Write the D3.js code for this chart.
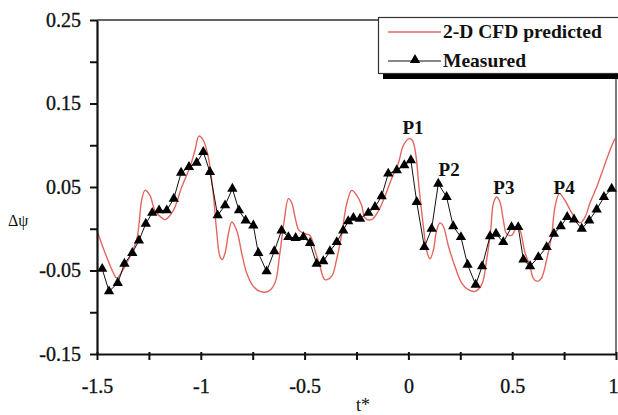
<!DOCTYPE html>
<html>
<head>
<meta charset="utf-8">
<script src="https://cdn.jsdelivr.net/npm/d3@7"></script>
<style>
  body { margin: 0; background: #fff; }
  svg { display: block; }
  .axis path, .axis line { stroke: #111; }
  .axis text { font-size: 20px; fill: #111; stroke: #111; stroke-width: 0.35px; }
</style>
</head>
<body>
<div id="chart"></div>
<script>
// 2-D CFD predicted (red curve), t* vs delta psi
const cfdT = [-1.5, -1.461, -1.421, -1.405, -1.357, -1.309, -1.285, -1.269, -1.245, -1.221,
  -1.188, -1.172, -1.132, -1.092, -1.052, -1.028, -1.009, -0.988, -0.964, -0.94,
  -0.924, -0.908, -0.897, -0.883, -0.867, -0.851, -0.827, -0.803, -0.779, -0.747,
  -0.715, -0.675, -0.643, -0.619, -0.598, -0.578, -0.562, -0.546, -0.527, -0.498,
  -0.474, -0.45, -0.426, -0.402, -0.37, -0.346, -0.321, -0.297, -0.273, -0.249,
  -0.225, -0.209, -0.177, -0.145, -0.113, -0.081, -0.049, -0.024, 0.003, 0.019,
  0.035, 0.051, 0.072, 0.088, 0.104, 0.12, 0.136, 0.152, 0.168, 0.192,
  0.224, 0.257, 0.289, 0.321, 0.353, 0.377, 0.397, 0.409, 0.425, 0.441,
  0.457, 0.473, 0.497, 0.521, 0.537, 0.561, 0.586, 0.601, 0.621, 0.641,
  0.666, 0.69, 0.706, 0.727, 0.754, 0.778, 0.802, 0.827, 0.851, 0.875,
  0.907, 0.939, 0.971, 0.995];
const cfdV = [-0.002, -0.029, -0.053, -0.059, -0.041, -0.013, 0.034, 0.046, 0.040, 0.022,
  0.013, 0.011, 0.022, 0.050, 0.074, 0.094, 0.111, 0.106, 0.086, 0.042,
  -0.002, -0.033, -0.037, -0.029, -0.006, 0.008, -0.002, -0.029, -0.053, -0.069,
  -0.075, -0.075, -0.065, -0.029, 0.010, 0.036, 0.031, 0.014, -0.002, -0.006,
  -0.008, -0.026, -0.045, -0.061, -0.057, -0.037, -0.006, 0.030, 0.046, 0.040,
  0.028, 0.013, 0.011, 0.021, 0.039, 0.060, 0.078, 0.100, 0.108, 0.106,
  0.090, 0.050, 0.003, -0.026, -0.036, -0.026, -0.002, 0.007, 0.003, -0.020,
  -0.045, -0.065, -0.073, -0.075, -0.067, -0.037, 0.000, 0.030, 0.038, 0.032,
  0.011, -0.006, -0.008, 0.001, -0.002, -0.028, -0.045, -0.059, -0.063, -0.059,
  -0.037, -0.008, 0.026, 0.042, 0.034, 0.023, 0.013, 0.007, 0.014, 0.031,
  0.050, 0.072, 0.094, 0.108];

// Measured (black triangles)
const measT = [-1.475, -1.442, -1.40, -1.368, -1.33, -1.298, -1.265, -1.234, -1.201, -1.164,
  -1.13, -1.095, -1.057, -1.02, -0.988, -0.956, -0.919, -0.883, -0.848, -0.816,
  -0.784, -0.747, -0.723, -0.683, -0.646, -0.611, -0.578, -0.543, -0.506, -0.474,
  -0.442, -0.41, -0.378, -0.345, -0.314, -0.29, -0.265, -0.233, -0.193, -0.161,
  -0.129, -0.097, -0.056, -0.02, 0.012, 0.04, 0.077, 0.112, 0.144, 0.184,
  0.216, 0.253, 0.285, 0.324, 0.355, 0.393, 0.422, 0.457, 0.497, 0.529,
  0.554, 0.586, 0.626, 0.666, 0.701, 0.734, 0.765, 0.798, 0.835, 0.871,
  0.907, 0.942, 0.979];
const measV = [-0.048, -0.075, -0.065, -0.042, -0.029, -0.014, 0.006, 0.019, 0.022, 0.022,
  0.036, 0.067, 0.074, 0.079, 0.092, 0.068, 0.016, 0.028, 0.048, 0.022,
  0.010, 0.004, -0.029, -0.051, -0.027, -0.002, -0.010, -0.011, -0.010, -0.017,
  -0.042, -0.039, -0.027, -0.016, -0.002, 0.009, 0.013, 0.012, 0.019, 0.026,
  0.039, 0.066, 0.070, 0.076, 0.082, 0.032, -0.022, 0.000, 0.054, 0.038,
  0.003, -0.010, -0.043, -0.067, -0.045, -0.009, -0.006, -0.016, 0.002, 0.002,
  -0.037, -0.045, -0.034, -0.022, -0.006, 0.003, 0.014, 0.011, 0.000, 0.010,
  0.023, 0.038, 0.048];

// ticks
const xTicks = [-1.5, -1.25, -1, -0.75, -0.5, -0.25, 0, 0.25, 0.5, 0.75, 1];
const xLabelTicks = [-1.5, -1, -0.5, 0, 0.5, 1];
const xLabelText = ['-1.5', '-1', '-0.5', '0', '0.5', '1'];
const yTicks = [-0.15, -0.1, -0.05, 0, 0.05, 0.1, 0.15, 0.2, 0.25];
const yLabelTicks = [-0.15, -0.05, 0.05, 0.15, 0.25];
const yLabelText = ['-0.15', '-0.05', '0.05', '0.15', '0.25'];

// peak annotations
const peakNames = ['P1', 'P2', 'P3', 'P4'];
const peakT = [0.022, 0.196, 0.46, 0.75];
const peakV = [0.114, 0.0626, 0.042, 0.042];

const width = 618, height = 415;
const plot = {left: 97, right: 616, top: 20, bottom: 354};
const red = '#e4675f';
const serif = '"Liberation Serif", "Times New Roman", serif';

const svg = d3.select('#chart').append('svg')
  .attr('width', width)
  .attr('height', height)
  .attr('font-family', serif);

const x = d3.scaleLinear().domain([-1.5, 1]).range([plot.left, plot.right]);
const y = d3.scaleLinear().domain([-0.15, 0.25]).range([plot.bottom, plot.top]);

const cfd = cfdT.map((t, i) => ({t: t, v: cfdV[i]}));
const meas = measT.map((t, i) => ({t: t, v: measV[i]}));

// frame (top + right)
svg.append('path')
  .attr('d', `M${plot.left},${plot.top}H${plot.right}V${plot.bottom}`)
  .attr('fill', 'none')
  .attr('stroke', '#333')
  .attr('stroke-width', 1.3);

// red CFD curve
const line = d3.line()
  .x(d => x(d.t))
  .y(d => y(d.v))
  .curve(d3.curveCatmullRom.alpha(0.5));

svg.append('path')
  .datum(cfd)
  .attr('d', line)
  .attr('fill', 'none')
  .attr('stroke', red)
  .attr('stroke-width', 1.4);

// measured line + triangles
svg.append('path')
  .datum(meas)
  .attr('d', d3.line().x(d => x(d.t)).y(d => y(d.v)))
  .attr('fill', 'none')
  .attr('stroke', '#111')
  .attr('stroke-width', 1);

const tri = d3.symbol().type(d3.symbolTriangle).size(46);

svg.append('g')
  .selectAll('path')
  .data(meas)
  .enter().append('path')
  .attr('d', tri)
  .attr('transform', d => `translate(${x(d.t)},${y(d.v)})`)
  .attr('fill', '#000');

// axes
const xAxis = d3.axisBottom(x)
  .tickValues(xTicks)
  .tickSize(6)
  .tickSizeOuter(0)
  .tickFormat(d => {
    const k = xLabelTicks.indexOf(d);
    return k >= 0 ? xLabelText[k] : '';
  });

svg.append('g')
  .attr('class', 'axis axis--x')
  .attr('transform', `translate(0, ${plot.bottom})`)
  .call(xAxis)
  .attr('font-family', serif)
  .attr('font-size', null)
  .call(g => g.select('.domain').attr('stroke-width', 2.2))
  .call(g => g.selectAll('.tick line').attr('stroke-width', 2).attr('y1', -2))
  .call(g => g.selectAll('.tick text').attr('dy', '0.71em').attr('y', 25))
  .call(g => g.selectAll('.tick text').filter(d => d === 1)
    .attr('text-anchor', 'end').attr('x', 2));

const yAxis = d3.axisLeft(y)
  .tickValues(yTicks)
  .tickSize(7)
  .tickSizeOuter(0)
  .tickPadding(9)
  .tickFormat(d => {
    const k = yLabelTicks.findIndex(v => Math.abs(v - d) < 1e-9);
    return k >= 0 ? yLabelText[k] : '';
  });

svg.append('g')
  .attr('class', 'axis axis--y')
  .attr('transform', `translate(${plot.left}, 0)`)
  .call(yAxis)
  .attr('font-family', serif)
  .attr('font-size', null)
  .call(g => g.select('.domain').attr('stroke-width', 2.2))
  .call(g => g.selectAll('.tick line').attr('stroke-width', 2));

// axis titles
svg.append('text')
  .attr('x', 363)
  .attr('y', 411)
  .attr('text-anchor', 'middle')
  .attr('font-size', 18)
  .attr('fill', '#111')
  .text('t*');

svg.append('text')
  .attr('x', 8)
  .attr('y', 226)
  .attr('font-size', 16)
  .attr('fill', '#111')
  .text('Δψ');

// peak labels
svg.append('g')
  .selectAll('text')
  .data(peakNames)
  .enter().append('text')
  .attr('x', (d, i) => x(peakT[i]))
  .attr('y', (d, i) => y(peakV[i]))
  .attr('text-anchor', 'middle')
  .attr('font-size', 19)
  .attr('font-weight', 'bold')
  .attr('fill', '#111')
  .text(d => d);

// legend
const legend = svg.append('g').attr('class', 'legend');

legend.append('rect')
  .attr('x', 383).attr('y', 73)
  .attr('width', 240).attr('height', 6)
  .attr('fill', '#000');

legend.append('rect')
  .attr('x', 378.5).attr('y', 17.5)
  .attr('width', 250).attr('height', 56)
  .attr('fill', '#fff')
  .attr('stroke', '#333')
  .attr('stroke-width', 1.2);

legend.append('line')
  .attr('x1', 388).attr('x2', 441)
  .attr('y1', 32).attr('y2', 32)
  .attr('stroke', red)
  .attr('stroke-width', 1.4);

legend.append('line')
  .attr('x1', 388).attr('x2', 441)
  .attr('y1', 61).attr('y2', 61)
  .attr('stroke', '#111')
  .attr('stroke-width', 1);

legend.append('path')
  .attr('d', tri)
  .attr('transform', 'translate(415,60)')
  .attr('fill', '#000');

legend.append('text')
  .attr('x', 443).attr('y', 38)
  .attr('font-size', 19.5)
  .attr('font-weight', 'bold')
  .attr('fill', '#111')
  .text('2-D CFD predicted');

legend.append('text')
  .attr('x', 443).attr('y', 67)
  .attr('font-size', 19.5)
  .attr('font-weight', 'bold')
  .attr('fill', '#111')
  .text('Measured');
</script>
</body>
</html>
